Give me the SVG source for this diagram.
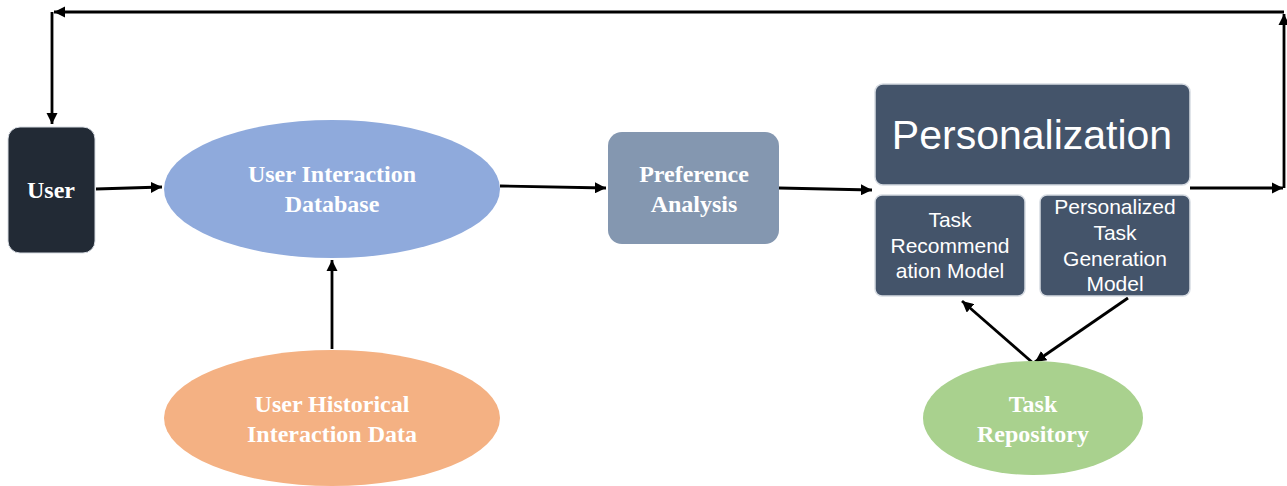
<svg xmlns="http://www.w3.org/2000/svg" width="1287" height="486" viewBox="0 0 1287 486">
<defs>
<marker id="ah" viewBox="0 0 10 10" refX="10" refY="5" markerWidth="4" markerHeight="4" orient="auto" markerUnits="strokeWidth">
<path d="M0,0 L10,5 L0,10 z" fill="#000"/>
</marker>
<style>
.serif{font-family:"Liberation Serif","Times New Roman",serif;font-weight:bold;font-size:24px;fill:#fff;text-anchor:middle}
.sans{font-family:"Liberation Sans",Arial,sans-serif;font-size:21px;fill:#fff;text-anchor:middle}
.conn{stroke:#000;stroke-width:2.8;fill:none}
.dark{fill:#44546a;stroke:#d6dbe2;stroke-width:1.5}
</style>
</defs>
<rect width="1287" height="486" fill="#fff"/>
<g id="connectors">
<path class="conn" d="M1190,188 L1283,188" marker-end="url(#ah)"/>
<path class="conn" d="M1284,188 L1284,14" marker-end="url(#ah)"/>
<path class="conn" d="M1284,12 L54,12" marker-end="url(#ah)"/>
<path class="conn" d="M52,12 L52,124" marker-end="url(#ah)"/>
<path class="conn" d="M96,189 L162,187" marker-end="url(#ah)"/>
<path class="conn" d="M500,186 L606,188" marker-end="url(#ah)"/>
<path class="conn" d="M779,188 L872,190" marker-end="url(#ah)"/>
<path class="conn" d="M332,349 L332,260" marker-end="url(#ah)"/>
<path class="conn" d="M1033,363 L962,301" marker-end="url(#ah)"/>
<path class="conn" d="M1128,298 L1035,362" marker-end="url(#ah)"/>
</g>
<g id="user">
<rect x="8" y="127" width="87" height="126" rx="12" fill="#222a35" stroke="#d6dbe2" stroke-width="1"/>
<text class="serif" x="51" y="198">User</text>
</g>
<g id="uid">
<ellipse cx="332" cy="189" rx="168" ry="69" fill="#8faadc"/>
<text class="serif" x="332" y="182">User Interaction</text>
<text class="serif" x="332" y="212">Database</text>
</g>
<g id="uhid">
<ellipse cx="332" cy="418" rx="168" ry="68" fill="#f4b183"/>
<text class="serif" x="332" y="412">User Historical</text>
<text class="serif" x="332" y="442">Interaction Data</text>
</g>
<g id="pref">
<rect x="608" y="132" width="171" height="112" rx="14" fill="#8497b0"/>
<text class="serif" x="694" y="182">Preference</text>
<text class="serif" x="694" y="212">Analysis</text>
</g>
<g id="pers">
<rect class="dark" x="875" y="84" width="315" height="101" rx="8"/>
<text class="sans" style="font-size:41px" x="1032" y="149">Personalization</text>
</g>
<g id="trm">
<rect class="dark" x="875" y="195" width="150" height="101" rx="7"/>
<text class="sans" x="950" y="227">Task</text>
<text class="sans" x="950" y="253">Recommend</text>
<text class="sans" x="950" y="278">ation Model</text>
</g>
<g id="ptgm">
<rect class="dark" x="1040" y="195" width="150" height="101" rx="7"/>
<text class="sans" x="1115" y="214">Personalized</text>
<text class="sans" x="1115" y="240">Task</text>
<text class="sans" x="1115" y="266">Generation</text>
<text class="sans" x="1115" y="291">Model</text>
</g>
<g id="repo">
<ellipse cx="1033" cy="418" rx="110" ry="57" fill="#a9d18e"/>
<text class="serif" x="1033" y="412">Task</text>
<text class="serif" x="1033" y="442">Repository</text>
</g>
</svg>
